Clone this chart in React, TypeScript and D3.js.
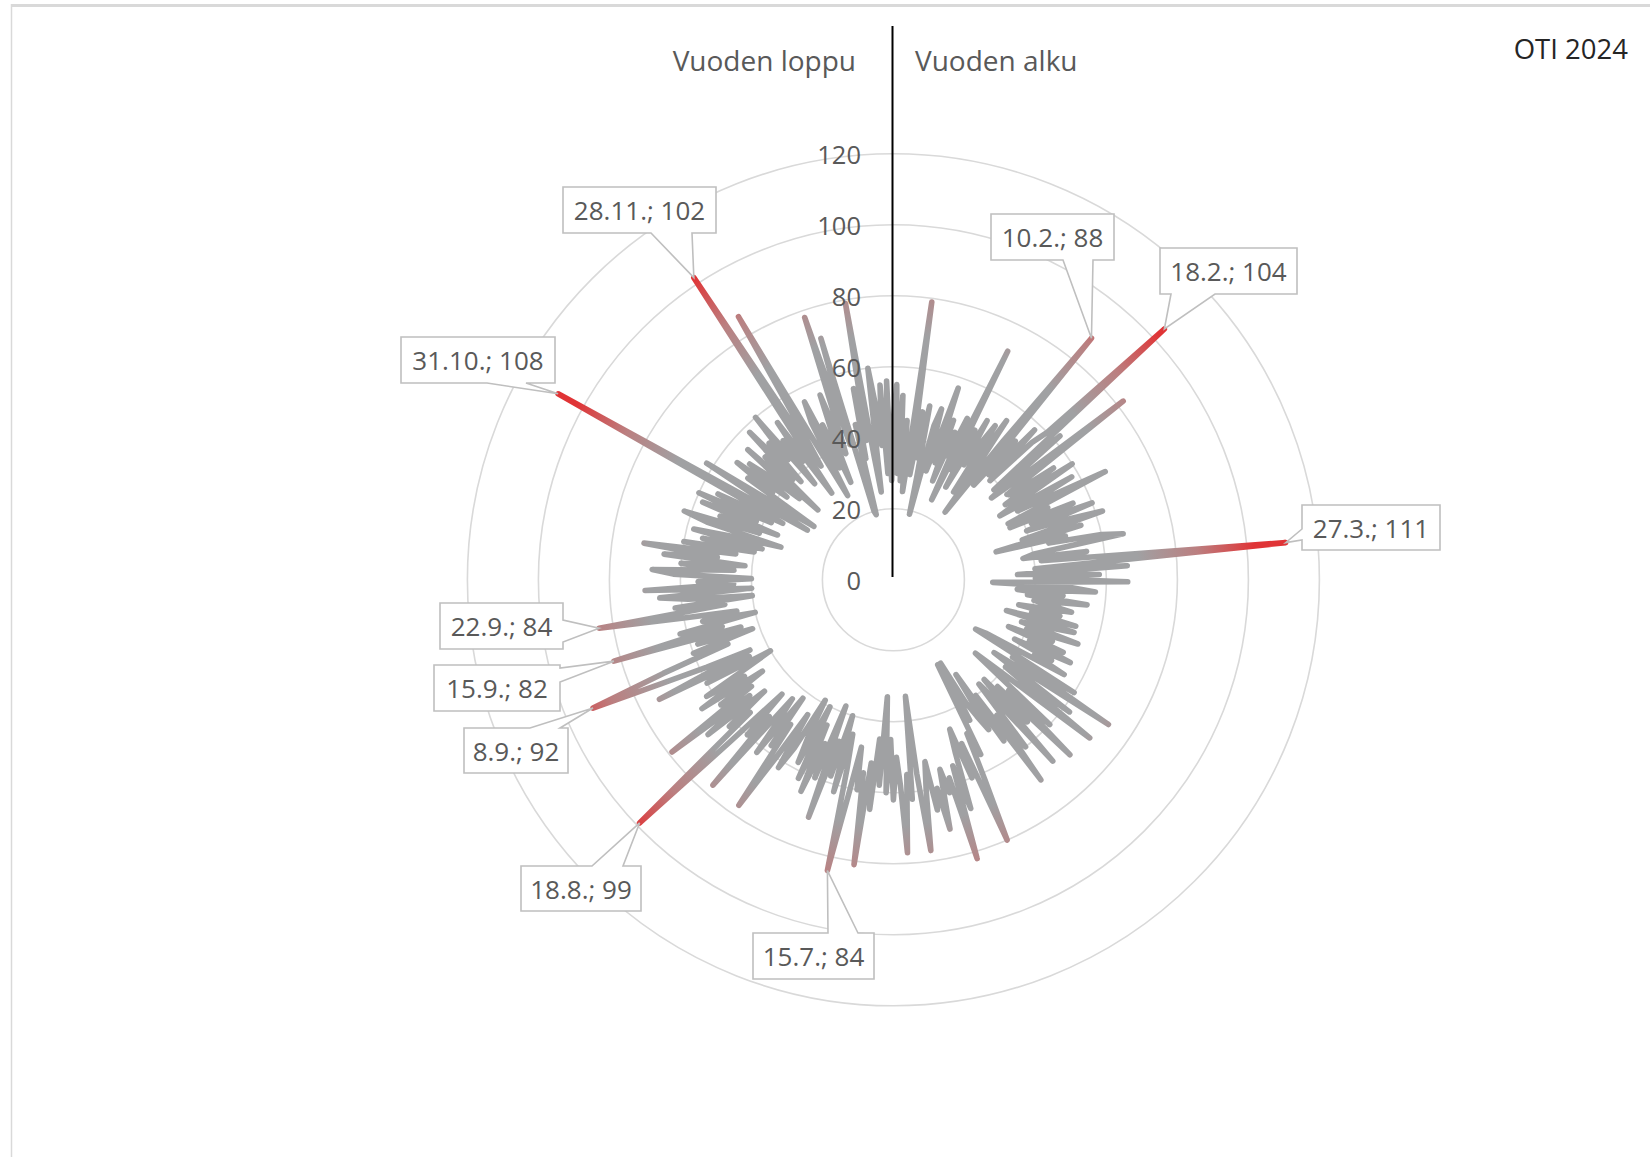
import React from 'react';
import * as d3 from 'd3';

// ---------- DATA ----------
// daily values for 2024 (366 days)
const valuesJan = [45, 55, 30, 52, 28, 45, 25, 35, 79, 30, 48, 35, 50, 30, 19, 45, 50, 32, 40, 57, 35, 48, 30, 45, 38, 50, 25, 72, 35, 48, 30];
const valuesFeb = [52, 38, 45, 52, 30, 55, 40, 24, 50, 88, 35, 52, 40, 58, 39, 55, 60, 104, 38, 62, 36, 45, 82, 40, 41, 55, 38, 60, 42];
const valuesMar = [35, 58, 40, 50, 67, 36, 48, 36, 55, 42, 60, 40, 52, 62, 38, 55, 30, 50, 45, 60, 66, 40, 37, 55, 42, 60, 111, 40, 66, 35, 58];
const valuesApr = [40, 66, 28, 50, 57, 35, 48, 38, 55, 40, 45, 51, 36, 48, 40, 53, 33, 53, 45, 38, 55, 40, 48, 35, 52, 42, 55, 38, 50, 45];
const valuesMay = [55, 30, 27, 60, 40, 73, 45, 35, 62, 40, 71, 50, 38, 31, 60, 45, 70, 42, 55, 38, 68, 45, 38, 60, 48, 70, 40, 55, 32, 50, 45];
const valuesJun = [40, 27, 45, 27, 55, 48, 62, 80, 50, 60, 45, 52, 68, 55, 82, 58, 62, 55, 72, 60, 66, 52, 60, 77, 55, 33, 62, 55, 77, 58];
const valuesJul = [50, 62, 45, 60, 33, 58, 45, 65, 52, 81, 55, 60, 48, 62, 84, 55, 45, 62, 40, 58, 48, 71, 38, 60, 50, 65, 45, 62, 40, 58, 50];
const valuesAug = [39, 55, 62, 45, 60, 77, 50, 58, 42, 62, 50, 44, 77, 52, 60, 45, 65, 99, 55, 62, 48, 68, 52, 79, 50, 60, 45, 65, 50, 62, 48];
const valuesSep = [40, 60, 46, 74, 45, 58, 72, 92, 70, 50, 60, 42, 58, 45, 82, 50, 62, 40, 55, 45, 60, 84, 48, 62, 40, 58, 66, 40, 70, 45];
const valuesOct = [55, 40, 62, 68, 45, 60, 42, 65, 50, 71, 45, 60, 40, 55, 38, 58, 45, 33, 55, 62, 40, 52, 35, 58, 42, 60, 38, 55, 35, 45, 108];
const valuesNov = [28, 40, 62, 35, 27, 50, 42, 55, 38, 52, 45, 35, 55, 29, 50, 40, 58, 38, 52, 45, 60, 35, 50, 42, 55, 30, 48, 102, 38, 50];
const valuesDec = [86, 40, 27, 50, 56, 35, 48, 30, 45, 56, 38, 50, 78, 40, 71, 20, 19, 45, 35, 55, 40, 79, 35, 25, 60, 50, 38, 55, 30, 56, 28];

const values: number[] = [
  ...valuesJan, ...valuesFeb, ...valuesMar, ...valuesApr, ...valuesMay, ...valuesJun,
  ...valuesJul, ...valuesAug, ...valuesSep, ...valuesOct, ...valuesNov, ...valuesDec,
];

const monthLengths = [31, 29, 31, 30, 31, 30, 31, 31, 30, 31, 30, 31];
const radialTicks = [0, 20, 40, 60, 80, 100, 120];
const labeledDates = ['10.2.', '18.2.', '27.3.', '15.7.', '18.8.', '8.9.', '15.9.', '22.9.', '31.10.', '28.11.'];
const titleText = 'OTI 2024';
const startText = 'Vuoden alku';
const endText = 'Vuoden loppu';

// ---------- LAYOUT ----------
const W = 1650;
const H = 1157;
const CX = 893.4;
const CY = 579.8;
const RMAX = 426;
const FONT = '"Open Sans", "Noto Sans", sans-serif';

type Box = { x: number; y: number; w: number; h: number; side: 'top' | 'bottom' | 'left' | 'right'; a: number; b: number };
const labelBoxes: Box[] = [
  { x: 991, y: 214, w: 123, h: 46, side: 'bottom', a: 1063, b: 1093 },
  { x: 1160, y: 248, w: 137, h: 46, side: 'bottom', a: 1171, b: 1215 },
  { x: 1302, y: 505, w: 138, h: 45, side: 'left', a: 529, b: 540 },
  { x: 753, y: 933, w: 121, h: 46, side: 'top', a: 828, b: 858 },
  { x: 521, y: 866, w: 120, h: 45, side: 'top', a: 592, b: 623 },
  { x: 464, y: 728, w: 104, h: 45, side: 'top', a: 530, b: 560 },
  { x: 434, y: 665, w: 126, h: 46, side: 'right', a: 668, b: 682 },
  { x: 440, y: 603, w: 123, h: 46, side: 'right', a: 620, b: 642 },
  { x: 401, y: 337, w: 154, h: 46, side: 'bottom', a: 487, b: 526 },
  { x: 563, y: 187, w: 153, h: 46, side: 'bottom', a: 651, b: 692 },
];

function dateToIndex(d: string): number {
  const [day, month] = d.split('.').map((s) => parseInt(s, 10));
  let idx = 0;
  for (let m = 0; m < month - 1; m++) idx += monthLengths[m];
  return idx + day - 1;
}

function calloutPath(bx: Box, tx: number, ty: number): string {
  const { x, y, w, h, side, a, b } = bx;
  const r = x + w;
  const btm = y + h;
  switch (side) {
    case 'bottom':
      return `M${x},${y}H${r}V${btm}H${b}L${tx},${ty}L${a},${btm}H${x}Z`;
    case 'top':
      return `M${x},${y}H${a}L${tx},${ty}L${b},${y}H${r}V${btm}H${x}Z`;
    case 'left':
      return `M${x},${y}H${r}V${btm}H${x}V${b}L${tx},${ty}L${x},${a}Z`;
    case 'right':
    default:
      return `M${x},${y}H${r}V${a}L${tx},${ty}L${r},${b}V${btm}H${x}Z`;
  }
}

export default function App() {
  const n = values.length;
  const rScale = d3.scaleLinear().domain([0, 120]).range([0, RMAX]);
  const angle = d3.scaleLinear().domain([0, n]).range([0, 2 * Math.PI]);

  const line = d3
    .lineRadial<number>()
    .angle((_, i) => angle(i))
    .radius((d) => rScale(d))
    .curve(d3.curveLinearClosed);
  const pathD = line(values) || '';

  const gray = '#A0A1A3';
  const red = '#E03436';

  return (
    <svg width={W} height={H} style={{ position: 'absolute', left: 0, top: 0, background: '#fff' }}>
      <defs>
        <radialGradient id="valGrad" gradientUnits="userSpaceOnUse" cx={0} cy={0} r={RMAX}>
          <stop offset={0} stopColor={gray} />
          <stop offset={rScale(69) / RMAX} stopColor={gray} />
          <stop offset={rScale(86) / RMAX} stopColor="#BB7F80" />
          <stop offset={rScale(102) / RMAX} stopColor={red} />
          <stop offset={1} stopColor={red} />
        </radialGradient>
      </defs>
      <rect x={0} y={0} width={W} height={H} fill="#fff" />
      {/* frame */}
      <line x1={11} x2={W} y1={5.5} y2={5.5} stroke="#D9D9D9" strokeWidth={3} />
      <line x1={11.5} x2={11.5} y1={4} y2={H} stroke="#D9D9D9" strokeWidth={1.5} />

      {/* grid circles */}
      <g>
        {radialTicks.filter((t) => t > 0).map((t) => (
          <circle key={t} cx={CX} cy={CY} r={rScale(t)} fill="none" stroke="#D9D9D9" strokeWidth={1.6} />
        ))}
      </g>

      {/* data line */}
      <g transform={`translate(${CX},${CY})`}>
        <path
          d={pathD}
          fill="none"
          stroke="url(#valGrad)"
          strokeWidth={5.6}
          strokeLinejoin="round"
          strokeLinecap="round"
        />
      </g>

      {/* tick labels */}
      <g fontFamily={FONT} fontSize={25.5} fill="#595959">
        {radialTicks.map((t) => (
          <text key={t} x={861} y={CY - rScale(t)} textAnchor="end" dominantBaseline="central">
            {t}
          </text>
        ))}
      </g>

      {/* vertical axis line */}
      <line x1={892.5} x2={892.5} y1={26} y2={577} stroke="#000" strokeWidth={2} />

      {/* header texts */}
      <g fontFamily={FONT} fontSize={28} fill="#595959">
        <text x={856} y={60} textAnchor="end" dominantBaseline="central">{endText}</text>
        <text x={915} y={60} textAnchor="start" dominantBaseline="central">{startText}</text>
      </g>
      <text x={1628} y={48} textAnchor="end" dominantBaseline="central" fontFamily={FONT} fontSize={27.5} fill="#252525">
        {titleText}
      </text>

      {/* data labels */}
      <g fontFamily={FONT} fontSize={26} fill="#595959">
        {labeledDates.map((d, k) => {
          const i = dateToIndex(d);
          const v = values[i];
          const [px, py] = d3.pointRadial(angle(i), rScale(v));
          const tx = CX + px;
          const ty = CY + py;
          const b = labelBoxes[k];
          return (
            <g key={d}>
              <path d={calloutPath(b, tx, ty)} fill="#fff" stroke="#BFBFBF" strokeWidth={1.6} />
              <text x={b.x + b.w / 2} y={b.y + b.h / 2} textAnchor="middle" dominantBaseline="central">
                {`${d}; ${v}`}
              </text>
            </g>
          );
        })}
      </g>
    </svg>
  );
}
